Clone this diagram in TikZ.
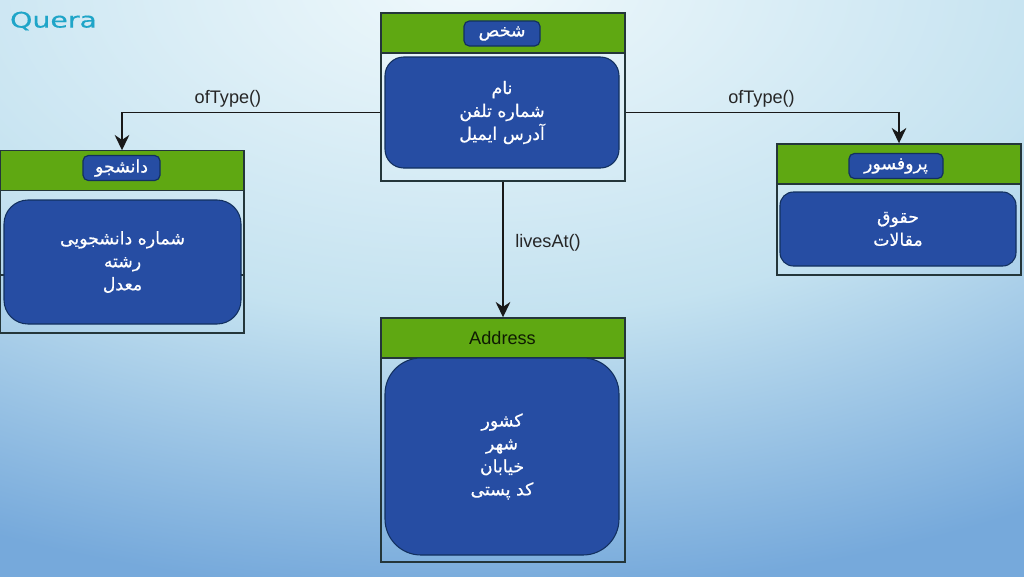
\documentclass[tikz,border=0pt]{standalone}
\usepackage{fontspec}
\setmainfont{Liberation Sans}
\newfontfamily\arabicfont[Script=Arabic,FakeBold=0.6]{DejaVu Sans}
\newfontfamily\logofont[FakeBold=0.4]{DejaVu Sans}
\TeXXeTstate=1
\usetikzlibrary{arrows.meta,calc}
\definecolor{bgA}{HTML}{F0F9FC}
\definecolor{bgB}{HTML}{C4E2F0}
\definecolor{bgC}{HTML}{76A9DB}
\definecolor{boxline}{HTML}{24363A}
\definecolor{headgreen}{HTML}{5FA812}
\definecolor{bodyblue}{HTML}{264DA3}
\definecolor{bodyline}{HTML}{12305F}
\definecolor{logoblue}{HTML}{1FA5C8}
\pgfdeclareradialshading{bgshade}{\pgfpoint{0bp}{0bp}}{
  color(0bp)=(bgA);
  color(6.6bp)=(bgB);
  color(12bp)=(bgC);
  color(50bp)=(bgC)}
\newcommand{\fa}[1]{\beginR #1\endR}
\tikzset{
  x=0.75pt, y=-0.75pt,
  classbox/.style={draw=boxline, line width=1.1pt, minimum width=244*0.75pt, inner sep=0pt},
  headbar/.style={draw=boxline, line width=1.1pt, fill=headgreen, minimum width=244*0.75pt, minimum height=40*0.75pt, inner sep=0pt},
  pill/.style={draw=bodyline, line width=0.9pt, fill=bodyblue, rounded corners=4pt, minimum height=25*0.75pt, inner sep=0pt, text=white, font=\arabicfont\fontsize{13}{15}\selectfont},
  bodybox/.style={draw=bodyline, line width=0.8pt, fill=bodyblue, inner sep=0pt, text=white, align=center, font=\arabicfont\fontsize{13}{17.2}\selectfont},
  conn/.style={draw=black!90, line width=1.1pt, -{Stealth[length=11.5pt,width=11pt]}},
  edgelabel/.style={font=\fontsize{13.6}{15}\selectfont, text=black!85, inner sep=0pt}
}
\begin{document}
\begin{tikzpicture}
\useasboundingbox (0,0) rectangle (1024,576);
\begin{scope}
  \clip (0,0) rectangle (1024,576);
  \shade[shading=bgshade] (470,-20) ellipse [x radius=2300, y radius=1280];
\end{scope}

% logo
\node[font=\logofont\fontsize{16}{16}\selectfont, text=logoblue, xscale=1.33, inner sep=0pt] (logo) at (53.5,21) {Quera};

% Person
\node[classbox, minimum height=168*0.75pt] (person) at (503,97) {};
\node[headbar] (personhead) at (503,33) {};
\node[pill, minimum width=76*0.75pt] (personpill) at (502,33.5) {\fa{شخص}};
\node[bodybox, minimum width=234*0.75pt, minimum height=111*0.75pt, rounded corners=14pt] (personbody) at (502,112.5)
  {\fa{نام}\\\fa{شماره تلفن}\\\fa{آدرس ایمیل}};

% Student
\node[classbox, minimum height=182*0.75pt] (student) at (122,242) {};
\node[headbar] (studenthead) at (122,170.5) {};
\draw[boxline, line width=0.8pt] (student.west |- 0,275) -- (student.east |- 0,275);
\node[pill, minimum width=77*0.75pt] (studentpill) at (121.5,168) {\fa{دانشجو}};
\node[bodybox, minimum width=237*0.75pt, minimum height=124*0.75pt, rounded corners=18pt] (studentbody) at (122.5,262)
  {\fa{شماره دانشجویی}\\\fa{رشته}\\\fa{معدل}};

% Professor
\node[classbox, minimum height=131*0.75pt] (prof) at (899,209.5) {};
\node[headbar] (profhead) at (899,164) {};
\node[pill, minimum width=94*0.75pt] (profpill) at (896,166) {\fa{پروفسور}};
\node[bodybox, minimum width=236*0.75pt, minimum height=74*0.75pt, rounded corners=10pt] (profbody) at (898,229)
  {\fa{حقوق}\\\fa{مقالات}};

% Address
\node[classbox, minimum height=244*0.75pt] (address) at (503,440) {};
\node[headbar] (addresshead) at (503,338) {};
\node[bodybox, minimum width=234*0.75pt, minimum height=197*0.75pt, rounded corners=27pt] (addressbody) at (502,456.5)
  {\fa{کشور}\\\fa{شهر}\\\fa{خیابان}\\\fa{کد پستی}};
\node[font=\fontsize{13.6}{15}\selectfont, text=black!20!headgreen!20!black, inner sep=0pt] (addresstitle) at (502.5,338.5) {Address};

% Connectors
\draw[conn] (person.west |- personbody.center) -| (student.north);
\draw[conn] (person.east |- personbody.center) -| (prof.north);
\draw[conn] (person.south) -- (address.north);

% Labels
\node[edgelabel] (lblstudent) at (228,98.5) {ofType()};
\node[edgelabel] (lblprof) at (761.5,98.5) {ofType()};
\node[edgelabel] (lbladdress) at (548,242.5) {livesAt()};
\end{tikzpicture}
\end{document}
